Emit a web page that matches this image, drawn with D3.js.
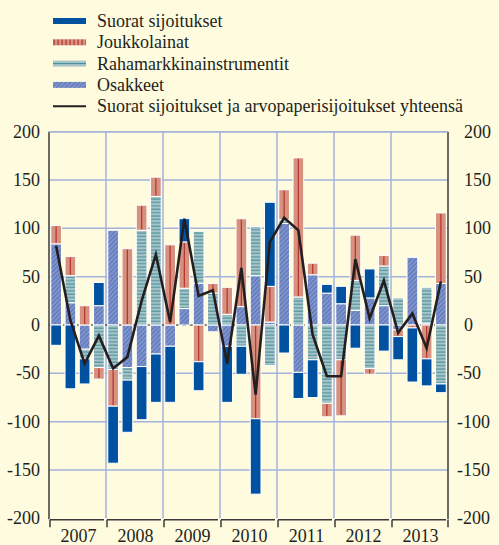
<!DOCTYPE html>
<html><head><meta charset="utf-8">
<script src="https://cdn.jsdelivr.net/npm/d3@7"></script>
<style>
html,body{margin:0;padding:0;background:#fefbdf;}
svg{display:block;}
text{font-family:"Liberation Serif","DejaVu Serif",serif;fill:#231f20;}
</style></head><body>
<svg id="chart" width="499" height="545"></svg>
<script>
const years = ["2007","2008","2009","2010","2011","2012","2013"];
const quarters = years.flatMap(y => ["Q1","Q2","Q3","Q4"].map(q => y + q));
const yTicks = [200,150,100,50,0,-50,-100,-150,-200];

const suorat = [-21,-66,-26,24,-59,-54,-55,-50,-58,24,-30,0,-58,-29,-78,87,-29,-27,-39,9,18,-24,30,-27,-24,-56,-28,-9];
const joukkolainat = [19,20,20,-12,-38,79,26,20,83,48,-38,10,28,91,-97,37,31,144,12,-14,-58,47,-6,11,-7,-3,-35,73];
const rahamarkkina = [0,28,-10,-44,-46,-13,98,133,0,21,54,33,11,-22,51,-42,4,29,-36,-81,-36,31,-45,41,28,0,37,-61];
const osakkeet = [84,23,-25,20,98,-44,-43,-30,-22,17,43,-7,-22,19,51,3,105,-49,52,33,22,15,28,20,-5,70,2,43];
const yhteensa = [82,5,-40,-11,-45,-33,25,73,3,110,30,36,-40,59,-72,86,111,98,-10,-53,-53,68,7,46,-8,12,-24,45];

const names = {
  suorat: "Suorat sijoitukset",
  jouk: "Joukkolainat",
  raha: "Rahamarkkinainstrumentit",
  osa: "Osakkeet",
  line: "Suorat sijoitukset ja arvopaperisijoitukset yhteensä"
};

const table = quarters.map((q,i) => ({q, osa: osakkeet[i], raha: rahamarkkina[i], jouk: joukkolainat[i], suorat: suorat[i]}));

const svg = d3.select("#chart");
const W = 499, H = 545;
svg.append("rect").attr("width",W).attr("height",H).attr("fill","#fefbdf");

const pLeft = 49, pRight = 448, pTop = 131.7, pBottom = 518.3;

const defs = svg.append("defs");
const pr = defs.append("pattern").attr("id","pRaha").attr("patternUnits","userSpaceOnUse").attr("width",6).attr("height",3.4);
pr.append("rect").attr("width",6).attr("height",3.4).attr("fill","#a9c4c8");
pr.append("rect").attr("y",1.3).attr("width",6).attr("height",1).attr("fill","#3f8d98");
const po = defs.append("pattern").attr("id","pOsa").attr("patternUnits","userSpaceOnUse").attr("width",4.5).attr("height",4.5);
po.append("rect").attr("width",4.5).attr("height",4.5).attr("fill","#7e92cb");
po.append("path").attr("d","M0,4.5 L4.5,0 M-1,1 L1,-1 M3.5,5.5 L5.5,3.5").attr("stroke","#3d5aa8").attr("stroke-width",0.7);
const pj = defs.append("pattern").attr("id","pJouk").attr("patternUnits","userSpaceOnUse").attr("width",4).attr("height",6);
pj.append("rect").attr("width",4).attr("height",6).attr("fill","#d8917f");
pj.append("rect").attr("x",1.5).attr("width",1.2).attr("height",6).attr("fill","#b23a34");

const x = d3.scaleBand().domain(quarters).range([pLeft, pRight]).paddingInner(0.25).paddingOuter(0.125);
const y = d3.scaleLinear().domain([-200,200]).range([pBottom, pTop]);
const xYear = d3.scaleBand().domain(years).range([pLeft, pRight]).padding(0);

const gridColor = "#a3b3dc";
svg.append("g").selectAll("line").data(yTicks.filter(t => t !== 0 && t !== -200)).join("line")
  .attr("x1", pLeft).attr("x2", pRight).attr("y1", d => y(d)).attr("y2", d => y(d))
  .attr("stroke", gridColor).attr("stroke-width", 1.5);
svg.append("g").selectAll("line").data(years.slice(1)).join("line")
  .attr("x1", d => xYear(d)).attr("x2", d => xYear(d)).attr("y1", y(200)).attr("y2", y(-200))
  .attr("stroke", gridColor).attr("stroke-width", 1.5);
svg.append("line").attr("x1", pLeft).attr("x2", pRight).attr("y1", y(0)).attr("y2", y(0))
  .attr("stroke", "#231f20").attr("stroke-width", 1).attr("stroke-dasharray", "4,3");

const keys = ["osa","raha","jouk","suorat"];
const fills = {osa:"url(#pOsa)", raha:"url(#pRaha)", jouk:"#d8917f", suorat:"#0052a1"};
const stack = d3.stack().keys(keys).offset(d3.stackOffsetDiverging)(table);

const gBars = svg.append("g");
stack.forEach(series => {
  const key = series.key;
  const g = gBars.append("g");
  const segs = series.filter(d => d[1] - d[0] !== 0);
  g.selectAll("rect").data(segs).join("rect")
    .attr("x", d => x(d.data.q))
    .attr("width", x.bandwidth())
    .attr("y", d => y(Math.max(d[0], d[1])))
    .attr("height", d => Math.abs(y(d[0]) - y(d[1])))
    .attr("fill", fills[key])
    .attr("stroke", "#ffffff").attr("stroke-width", 1);
  if (key === "jouk") {
    g.selectAll("line").data(segs).join("line")
      .attr("x1", d => x(d.data.q) + x.bandwidth()/2)
      .attr("x2", d => x(d.data.q) + x.bandwidth()/2)
      .attr("y1", d => y(Math.max(d[0], d[1])) + 1)
      .attr("y2", d => y(Math.min(d[0], d[1])) - 1)
      .attr("stroke", "#b23a34").attr("stroke-width", 1.3);
  }
});

const line = d3.line().x((d,i) => x(quarters[i]) + x.bandwidth()/2).y(d => y(d));
svg.append("path").datum(yhteensa).attr("d", line)
  .attr("fill","none").attr("stroke","#231f20").attr("stroke-width",2.6).attr("stroke-linejoin","miter");

const axisColor = "#3a3a3a";
svg.append("line").attr("x1", pLeft).attr("x2", pLeft).attr("y1", y(200)).attr("y2", y(-200)+1).attr("stroke", axisColor).attr("stroke-width", 1.5);
svg.append("line").attr("x1", pRight).attr("x2", pRight).attr("y1", y(200)).attr("y2", y(-200)+1).attr("stroke", axisColor).attr("stroke-width", 1.5);
svg.append("line").attr("x1", pLeft).attr("x2", pRight).attr("y1", y(200)).attr("y2", y(200)).attr("stroke", gridColor).attr("stroke-width", 1.5);
const gB = svg.append("g");
years.forEach(yr => {
  const x0 = xYear(yr), x1 = x0 + xYear.bandwidth();
  gB.append("line").attr("x1", x0 + 1).attr("x2", x1 - 2).attr("y1", y(-200)+1.5).attr("y2", y(-200)+1.5).attr("stroke", axisColor).attr("stroke-width", 1.5);
  gB.append("line").attr("x1", x0 + 1).attr("x2", x0 + 1).attr("y1", y(-200)+1.5).attr("y2", y(-200)+9).attr("stroke", axisColor).attr("stroke-width", 1.5);
});
gB.append("line").attr("x1", pRight).attr("x2", pRight).attr("y1", y(-200)+1.5).attr("y2", y(-200)+9).attr("stroke", axisColor).attr("stroke-width", 1.5);

svg.append("g").selectAll("text").data(years).join("text")
  .attr("x", d => xYear(d) + xYear.bandwidth()/2 + 1)
  .attr("y", 542)
  .attr("text-anchor","middle").attr("font-size", 18)
  .text(d => d);

svg.append("g").selectAll("text").data(yTicks).join("text")
  .attr("x", 40).attr("y", d => y(d) + 6)
  .attr("text-anchor","end").attr("font-size", 18).text(d => d);
svg.append("g").selectAll("text").data(yTicks).join("text")
  .attr("x", d => d < 0 ? 457 : 464).attr("y", d => y(d) + 6)
  .attr("text-anchor","start").attr("font-size", 18).text(d => d);

const leg = svg.append("g");
const legItems = [
  {k:"suorat", fill:"#0052a1"},
  {k:"jouk", fill:"url(#pJouk)"},
  {k:"raha", fill:"#a9c4c8"},
  {k:"osa", fill:"url(#pOsa)"},
  {k:"line"}
];
legItems.forEach((it, i) => {
  const cy = 21 + i * 21.3;
  if (it.k === "line") {
    leg.append("line").attr("x1", 53).attr("x2", 86).attr("y1", cy).attr("y2", cy).attr("stroke","#231f20").attr("stroke-width",2);
  } else {
    leg.append("rect").attr("x", 53).attr("y", cy - 3).attr("width", 33).attr("height", 6).attr("fill", it.fill);
    if (it.k === "raha") leg.append("line").attr("x1",53).attr("x2",86).attr("y1",cy).attr("y2",cy).attr("stroke","#3f8d98").attr("stroke-width",1);
  }
  leg.append("text").attr("x", 97).attr("y", cy + 6).attr("font-size", 18).text(names[it.k]);
});
</script>
</body></html>
